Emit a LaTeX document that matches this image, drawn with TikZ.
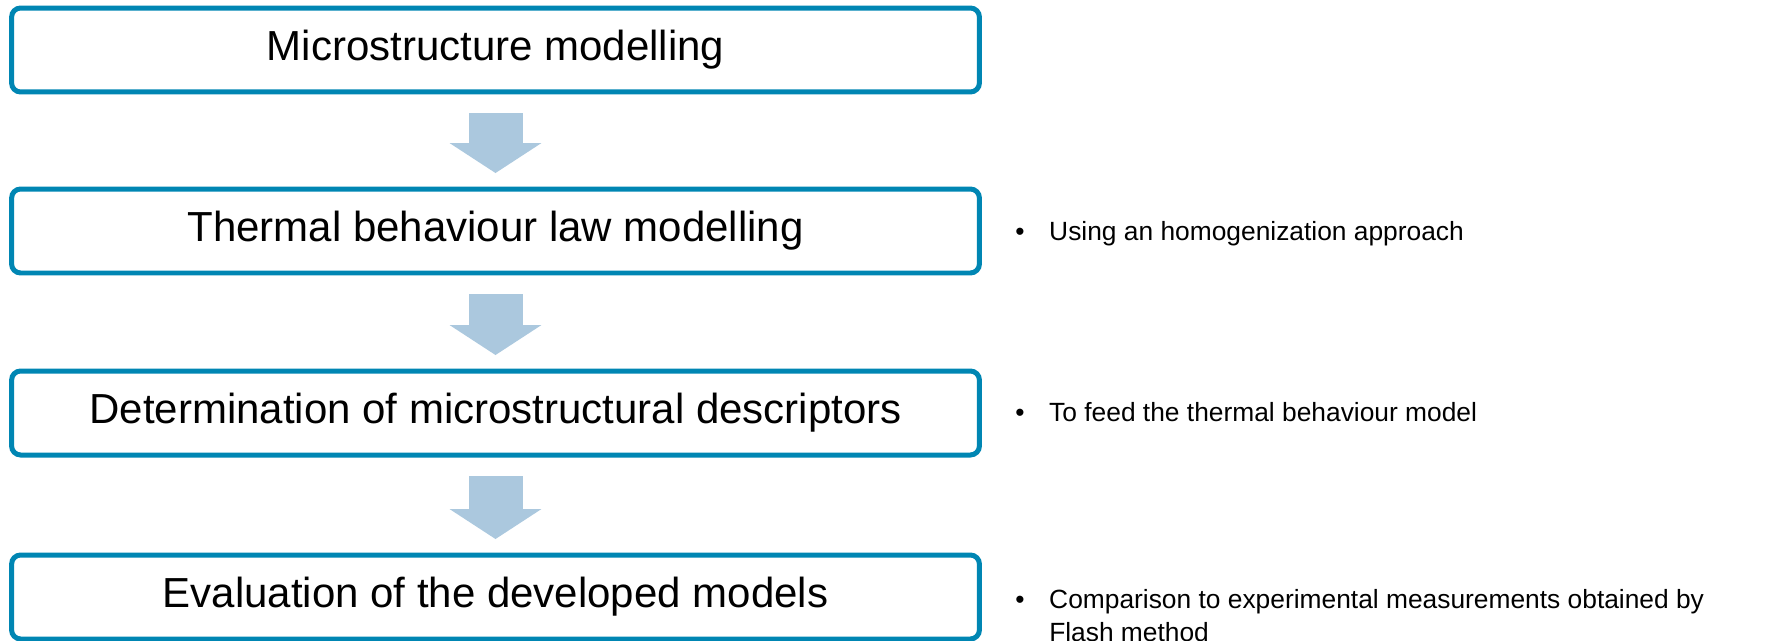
\documentclass[tikz,border=0pt]{standalone}
\usepackage{fontspec}
\setmainfont{Liberation Sans}
\usetikzlibrary{positioning}
\usetikzlibrary{arrows.meta}

\definecolor{boxblue}{RGB}{0,134,179}
\definecolor{flowblue}{RGB}{171,200,222}

\newcommand{\noteitem}[1]{\begin{tabular}{@{}p{0.68cm}@{}l@{}}\textbullet & #1\end{tabular}}

\tikzset{
    stage/.style={draw=boxblue, line width=0.1cm, rounded corners=0.18cm, minimum width=19.36cm, minimum height=1.68cm, inner sep=0pt, font=\fontsize{23.9}{28}\selectfont},
    flowarrow/.style={draw=flowblue, line width=1.08cm, -{Triangle[length=0.6cm, width=1.84cm, line width=0pt]}, shorten <=0.38cm, shorten >=0.27cm},
    note/.style={font=\fontsize{15}{18.7}\selectfont, inner sep=0pt}
}

\begin{document}
\begin{tikzpicture}[x=0.02cm, y=-0.02cm]

    \useasboundingbox (0,0) rectangle (1765,640);

    % Draw stages
    \node[stage] (micro) at (495.5, 50) {Microstructure modelling};
    \node[stage] (thermal) at (495.5, 231) {Thermal behaviour law modelling};
    \node[stage] (descr) at (495.5, 413) {Determination of microstructural descriptors};
    \node[stage] (eval) at (495.5, 597) {Evaluation of the developed models};

    % Draw arrows
    \draw[flowarrow] (micro) -- (thermal);
    \draw[flowarrow] (thermal) -- (descr);
    \draw[flowarrow] (descr) -- (eval);

    % Notes
    \node[note, right=0.66cm of thermal, yshift=-0.06cm] (homog) {\noteitem{Using an homogenization approach}};
    \node[note, right=0.66cm of descr, yshift=-0.04cm] (feed) {\noteitem{To feed the thermal behaviour model}};
    \node[note, right=0.66cm of eval, yshift=-0.42cm] (flash) {\noteitem{Comparison to experimental measurements obtained by\\ & Flash method}};

\end{tikzpicture}
\end{document}
